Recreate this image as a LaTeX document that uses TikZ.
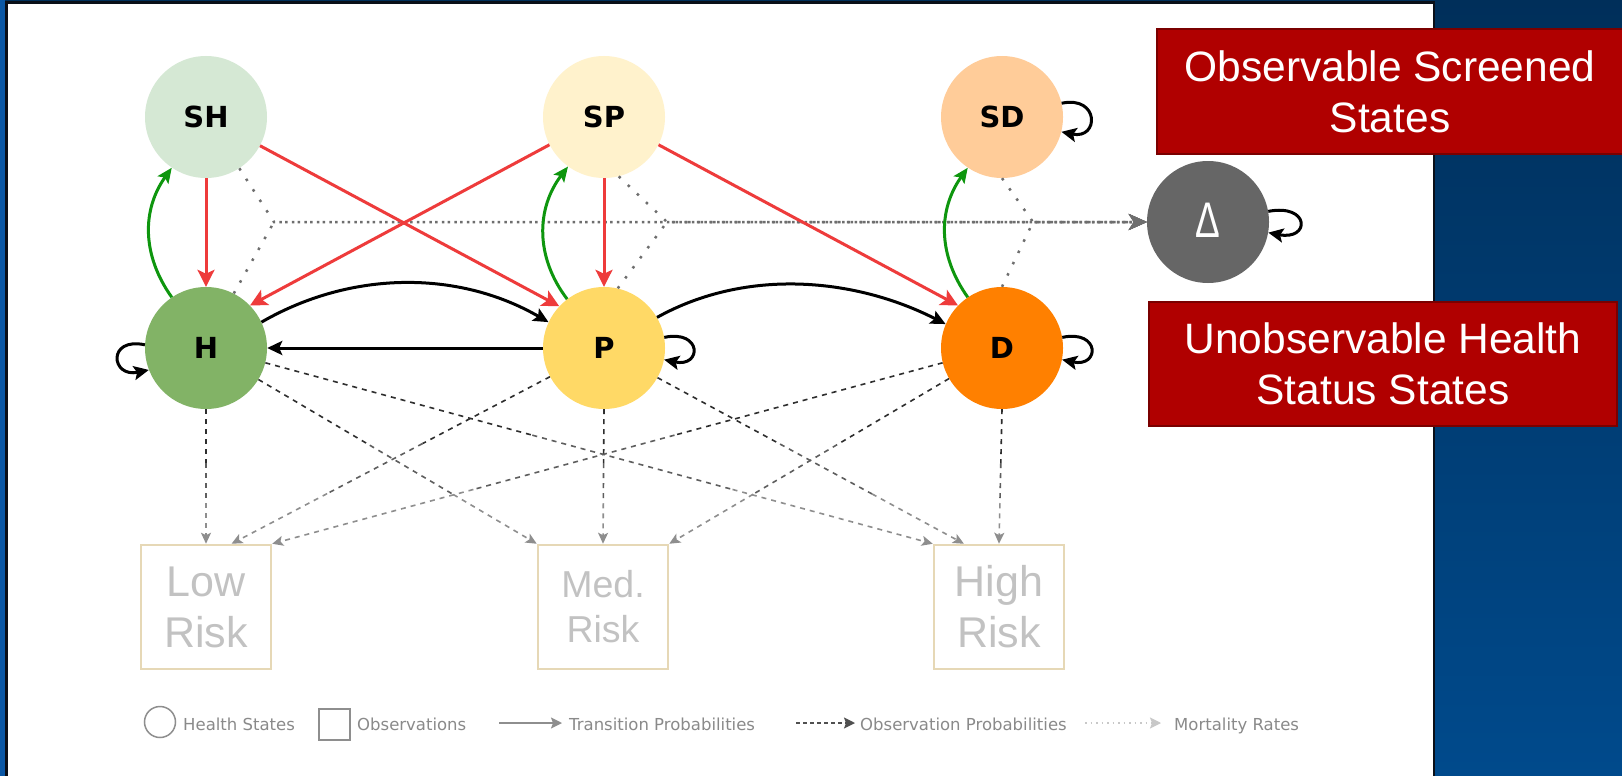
\documentclass[tikz,border=0pt]{standalone}
\usepackage{fontspec}
\usepackage{graphicx}
\setmainfont{Liberation Sans}
\newfontfamily\dvs{DejaVu Sans}
\usetikzlibrary{arrows.meta,calc}

\definecolor{navytop}{HTML}{002F5A}
\definecolor{navybot}{HTML}{004A8C}
\definecolor{sideband}{HTML}{0A57A5}
\definecolor{panelline}{HTML}{0A0F18}
\definecolor{shfill}{HTML}{D5E8D4}
\definecolor{spfill}{HTML}{FFF2CC}
\definecolor{sdfill}{HTML}{FFCC99}
\definecolor{hfill}{HTML}{82B366}
\definecolor{pfill}{HTML}{FFD966}
\definecolor{dfill}{HTML}{FF8000}
\definecolor{deadfill}{HTML}{666666}
\definecolor{redarrow}{HTML}{EE3B3B}
\definecolor{greenarrow}{HTML}{0E960E}
\definecolor{boxtan}{HTML}{E6D8B6}
\definecolor{obstext}{HTML}{C2C2C2}
\definecolor{bannerred}{HTML}{B00000}
\definecolor{bannerline}{HTML}{7A0000}
\definecolor{mortgray}{HTML}{6E6E6E}
\definecolor{obsdark}{HTML}{2E2E2E}
\definecolor{obsmid}{HTML}{5E5E5E}
\definecolor{obslight}{HTML}{8E8E8E}
\definecolor{legendtext}{HTML}{8A8A8A}
\definecolor{legline}{HTML}{8E8E8E}
\definecolor{legdark}{HTML}{505050}
\definecolor{leglight}{HTML}{C8C8C8}

\tikzset{
  state/.style={circle, minimum size=122pt, inner sep=0pt,
    font=\dvs\bfseries\fontsize{29}{34}\selectfont},
  obsbox/.style={draw=boxtan, line width=2.5pt, fill=white,
    minimum width=130pt, minimum height=124pt, inner sep=0pt,
    align=center, text=obstext},
  banner/.style={fill=bannerred, draw=bannerline, line width=1.5pt,
    text=white, align=center, inner sep=0pt,
    font=\fontsize{42.5}{51}\selectfont},
  redarr/.style={draw=redarrow, line width=3pt,
    -{Stealth[length=17pt,width=17pt,inset=4pt]}},
  greenarr/.style={draw=greenarrow, line width=3pt,
    -{Stealth[length=15pt,width=13pt,inset=3pt]}},
  blackarr/.style={draw=black, line width=3pt,
    -{Stealth[length=15pt,width=14pt,inset=3pt]}},
  mort/.style={draw=mortgray, line width=2.5pt, dash pattern=on 2.5pt off 10pt,
    -{Stealth[length=18pt,width=16pt,inset=5pt]}},
  obsseg/.style={line width=1.6pt, dash pattern=on 5pt off 5pt},
  obstip/.style={-{Stealth[length=11pt,width=10pt,inset=2.5pt]}},
  legtext/.style={anchor=base west, inner sep=0pt, text=legendtext,
    font=\dvs\fontsize{16.5}{20}\selectfont},
  legshape/.style={draw=legline, line width=1.5pt, inner sep=0pt, minimum size=31pt},
}

% observation link: dark near the state, fading to grey at the observation
\newcommand\obslink[2]{%
  \draw[obsseg, draw=obsdark] (#1) -- ($(#1)!0.4!(#2)$);
  \draw[obsseg, draw=obsmid] ($(#1)!0.4!(#2)$) -- ($(#1)!0.7!(#2)$);
  \draw[obsseg, obstip, draw=obslight] ($(#1)!0.7!(#2)$) -- (#2);}

\begin{document}
\begin{tikzpicture}[x=1pt,y=-1pt]
\useasboundingbox (0,0) rectangle (1622,776);

% backdrop and white panel
\shade[top color=navytop, bottom color=navybot] (0,0) rectangle (1622,776);
\fill[sideband] (0,0) rectangle (5,776);
\filldraw[fill=white, draw=panelline, line width=2.5pt] (6.5,2.5) rectangle (1434,800);

% banners
\node[banner, minimum width=466pt, minimum height=125pt] (obsBanner) at (1390,91.5)
  {Observable Screened\\States};
\node[banner, minimum width=468pt, minimum height=124pt] (unobsBanner) at (1383,364)
  {Unobservable Health\\Status States};

% health states
\node[state, fill=shfill] (SH) at (206,117) {SH};
\node[state, fill=spfill] (SP) at (604,117) {SP};
\node[state, fill=sdfill] (SD) at (1002,117) {SD};
\node[state, fill=hfill] (H) at (206,348) {H};
\node[state, fill=pfill] (P) at (604,348) {P};
\node[state, fill=dfill] (D) at (1002,348) {D};
\node[state, fill=deadfill, text=white, font=\fontsize{50}{50}\selectfont] (Dead) at (1208,222)
  {\raisebox{3.5pt}{\scalebox{0.74}[1]{Δ}}};

% observations
\node[obsbox, font=\fontsize{43}{51}\selectfont] (Low) at (206,607) {Low\\Risk};
\node[obsbox, font=\fontsize{37.5}{45}\selectfont] (Med) at (603,607) {Med.\\Risk};
\node[obsbox, font=\fontsize{43}{51}\selectfont] (High) at (999,607) {High\\Risk};

% mortality
\coordinate (jH) at (274,222);
\coordinate (jP) at (667,222);
\coordinate (jD) at (1033,222);
\foreach \s/\j in {SH.-57/jH, H.63/jH, SP.-76/jP, P.77/jP, SD.-90/jD, D.90/jD}
  \draw[mort] (\s) -- (\j) -- (Dead);

% observation probabilities
\obslink{H.south}{Low.north}
\obslink{H.-31}{Med.north west}
\obslink{H.-14}{High.north west}
\obslink{P.208}{Low.68}
\obslink{P.south}{Med.north}
\obslink{P.-29}{High.119}
\obslink{D.194}{Low.north east}
\obslink{D.210}{Med.north east}
\obslink{D.south}{High.north}

% screening transitions
\draw[redarr] (SH) -- (H);
\draw[redarr] (SH.-28) -- (P.137);
\draw[redarr] (SP.207) -- (H.44);
\draw[redarr] (SP) -- (P);
\draw[redarr] (SP.-27) -- (D.136);

\draw[greenarr] (H.124) .. controls +(-30,-42) and +(-30,42) .. (SH.236);
\draw[greenarr] (P.127) .. controls +(-32,-42) and +(-32,42) .. (SP.234);
\draw[greenarr] (D.124) .. controls +(-30,-42) and +(-30,42) .. (SD.236);

% disease progression
\draw[blackarr] (H.25) .. controls +(90,-52) and +(-90,-52) .. (P.155);
\draw[blackarr] (P.30) .. controls +(90,-50) and +(-90,-46) .. (D.157);
\draw[blackarr] (P) -- (H);

% self transitions
\draw[blackarr] (H.177) .. controls +(-38,-8) and +(-38,8) .. (H.201);
\draw[blackarr] (P.10) .. controls +(38,-8) and +(38,8) .. (P.-11);
\draw[blackarr] (D.10) .. controls +(38,-8) and +(38,8) .. (D.-11);
\draw[blackarr] (SD.13) .. controls +(38,-8) and +(38,8) .. (SD.-14);
\draw[blackarr] (Dead.10) .. controls +(42,-8) and +(42,8) .. (Dead.-10);

% legend
\node[legshape, circle] (lgState) at (160,722) {};
\node[legtext] (lgStateT) at (183,730) {Health States};
\node[legshape] (lgObs) at (334.5,724.5) {};
\node[legtext] (lgObsT) at (357,730) {Observations};
\coordinate (lgT1) at (499,723);
\coordinate (lgT2) at (562,723);
\draw[draw=legline, line width=1.5pt, -{Stealth[length=11pt,width=11pt,inset=2pt]}] (lgT1) -- (lgT2);
\node[legtext] (lgTT) at (569,730) {Transition Probabilities};
\coordinate (lgO1) at (796,723);
\coordinate (lgO2) at (855,723);
\draw[draw=legdark, line width=1.5pt, dash pattern=on 4pt off 3pt,
  -{Stealth[length=11pt,width=11pt,inset=2pt]}] (lgO1) -- (lgO2);
\node[legtext] (lgOT) at (860,730) {Observation Probabilities};
\coordinate (lgM1) at (1085,723);
\coordinate (lgM2) at (1161,723);
\draw[draw=leglight, line width=1.5pt, dash pattern=on 1.5pt off 4pt,
  -{Stealth[length=11pt,width=11pt,inset=2pt]}] (lgM1) -- (lgM2);
\node[legtext] (lgMT) at (1174,730) {Mortality Rates};
\end{tikzpicture}
\end{document}
